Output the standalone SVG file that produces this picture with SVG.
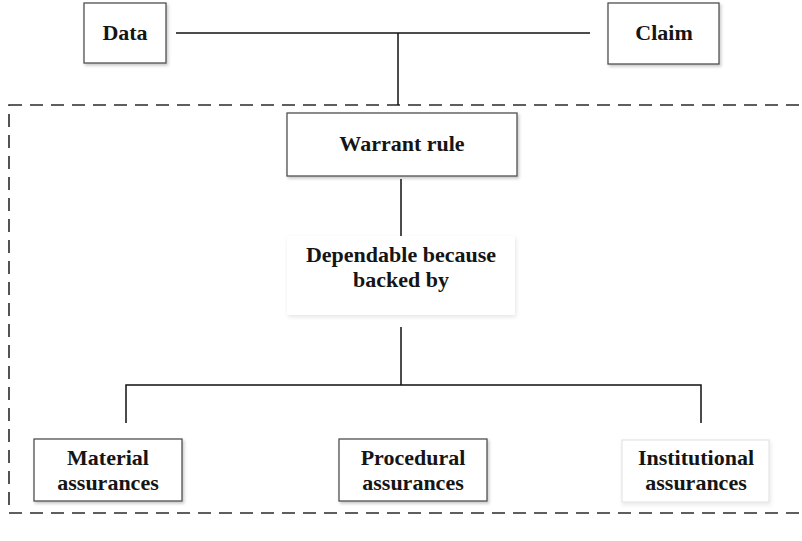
<svg xmlns="http://www.w3.org/2000/svg" width="802" height="541" viewBox="0 0 802 541">
  <defs>
    <filter id="drop" x="-10%" y="-10%" width="125%" height="130%">
      <feDropShadow dx="1.5" dy="2" stdDeviation="1.5" flood-color="#000000" flood-opacity="0.22"/>
    </filter>
    <filter id="glow" x="-10%" y="-10%" width="125%" height="130%">
      <feDropShadow dx="1" dy="2" stdDeviation="2" flood-color="#000000" flood-opacity="0.10"/>
    </filter>
  </defs>
  <style>
    .box { fill: #ffffff; stroke: #505050; stroke-width: 1.3; filter: url(#drop); }
    .faint { fill: #ffffff; stroke: #e4e4e4; stroke-width: 1.2; filter: url(#glow); }
    .plain { fill: #ffffff; stroke: none; filter: url(#glow); }
    .label { font-family: "Liberation Serif", "Times New Roman", serif; font-weight: bold; font-size: 22px; fill: #151515; text-anchor: middle; }
    .wire { stroke: #111111; stroke-width: 1.5; fill: none; }
    .frame { stroke: #2a2a2a; stroke-width: 1.6; fill: none; stroke-dasharray: 13 8; }
  </style>
  <rect width="802" height="541" fill="#ffffff"/>

  <!-- dashed boundary around the warrant part (right side runs off the canvas) -->
  <rect class="frame" x="9" y="105" width="800" height="408"/>

  <!-- connectors -->
  <g id="connectors">
    <line class="wire" x1="176" y1="33" x2="590" y2="33"/>
    <line class="wire" x1="398" y1="33" x2="398" y2="105"/>
    <line class="wire" x1="401" y1="179" x2="401" y2="238"/>
    <line class="wire" x1="401" y1="327" x2="401" y2="385"/>
    <polyline class="wire" points="126,423 126,385 701,385 701,423"/>
  </g>

  <g id="data">
    <rect class="box" x="84" y="3" width="82" height="60"/>
    <text class="label" x="125" y="40">Data</text>
  </g>

  <g id="claim">
    <rect class="box" x="608" y="3" width="111" height="61"/>
    <text class="label" x="664" y="40">Claim</text>
  </g>

  <g id="warrant-rule">
    <rect class="box" x="287" y="113" width="230" height="63"/>
    <text class="label" x="402" y="151">Warrant rule</text>
  </g>

  <g id="dependable">
    <rect class="plain" x="287" y="236" width="228" height="79"/>
    <text class="label" x="401" y="262">Dependable because</text>
    <text class="label" x="401" y="287">backed by</text>
  </g>

  <g id="material">
    <rect class="box" x="34" y="439" width="148" height="62"/>
    <text class="label" x="108" y="465">Material</text>
    <text class="label" x="108" y="490">assurances</text>
  </g>

  <g id="procedural">
    <rect class="box" x="339" y="439" width="148" height="62"/>
    <text class="label" x="413" y="465">Procedural</text>
    <text class="label" x="413" y="490">assurances</text>
  </g>

  <g id="institutional">
    <rect class="faint" x="622" y="440" width="147" height="62"/>
    <text class="label" x="696" y="465">Institutional</text>
    <text class="label" x="696" y="490">assurances</text>
  </g>
</svg>
